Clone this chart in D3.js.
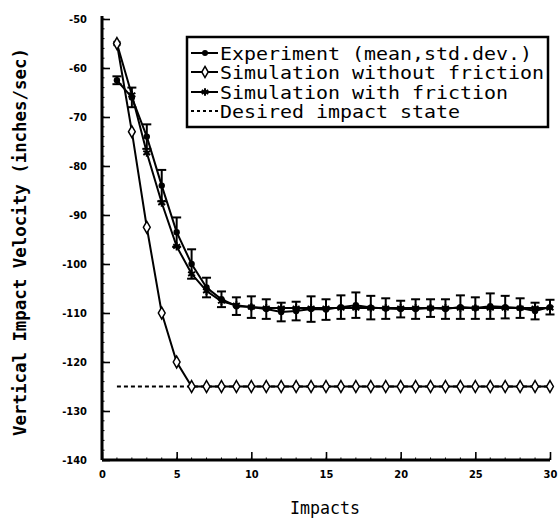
<!DOCTYPE html>
<html><head><meta charset="utf-8">
<script src="https://cdn.jsdelivr.net/npm/d3@7"></script>
<style>body{margin:0;background:#fff}svg{display:block}</style>
</head><body>
<script>
const impacts = [1,2,3,4,5,6,7,8,9,10,11,12,13,14,15,16,17,18,19,20,21,22,23,24,25,26,27,28,29,30];
const expMean = [-62.5,-66,-74,-84,-93.5,-100,-104.8,-107.2,-108.6,-108.8,-109.2,-109.8,-109.6,-109.2,-109.3,-108.8,-108.4,-108.9,-109.1,-109.2,-109.2,-109,-109.2,-108.8,-109,-108.6,-108.8,-109,-109.6,-108.8];
const expStd = [0.8,2,2.5,3.2,3,3,2,1.6,1.8,2.2,2,1.9,1.9,2.6,2.1,2.4,2.6,2.4,2.1,1.7,2,1.8,2,2.4,2.2,2.6,2.3,2,1.7,1.5];
const simNoFric = [-55,-73,-92.5,-110,-120,-125,-125,-125,-125,-125,-125,-125,-125,-125,-125,-125,-125,-125,-125,-125,-125,-125,-125,-125,-125,-125,-125,-125,-125,-125];
const simFric = [-55,-65.5,-77.3,-87.5,-96.4,-102,-105.5,-107.6,-108.4,-108.8,-109,-109,-109,-109,-109,-109,-109,-109,-109,-109,-109,-109,-109,-109,-109,-109,-109,-109,-109,-109];
const desiredX = [1,30];
const desiredY = [-125,-125];
const xTicks = [0,5,10,15,20,25,30];
const yTicks = [-50,-60,-70,-80,-90,-100,-110,-120,-130,-140];
const legendLabels = ["Experiment (mean,std.dev.)","Simulation without friction","Simulation with friction","Desired impact state"];

const W=560,H=524;
const svg=d3.select("body").append("svg").attr("width",W).attr("height",H);
const x=d3.scaleLinear().domain([0,30]).range([102,550]);
const y=d3.scaleLinear().domain([-140,-50]).range([460,19]);

// minor ticks
const g=svg.append("g");
g.selectAll(".mx").data(d3.range(0,31,1)).join("line")
 .attr("x1",d=>x(d)).attr("x2",d=>x(d)).attr("y1",y(-140)).attr("y2",y(-140)-2.5)
 .attr("stroke","#000").attr("stroke-width",1);
g.selectAll(".my").data(d3.range(-140,-49,2)).join("line")
 .attr("x1",x(0)).attr("x2",x(0)+2.5).attr("y1",d=>y(d)).attr("y2",d=>y(d))
 .attr("stroke","#000").attr("stroke-width",1);

// axes
const xAxis=d3.axisBottom(x).tickValues(xTicks).tickSize(-8).tickFormat(d3.format("d")).tickPadding(10);
const yAxis=d3.axisLeft(y).tickValues(yTicks).tickSize(-8).tickFormat(d=>"-"+Math.abs(d)).tickPadding(15);
const gx=svg.append("g").attr("transform",`translate(0,${y(-140)})`).call(xAxis);
const gy=svg.append("g").attr("transform",`translate(${x(0)},0)`).call(yAxis);
[gx,gy].forEach(a=>{
  a.select(".domain").attr("stroke","#000").attr("stroke-width",3);
  a.selectAll(".tick line").attr("stroke","#000").attr("stroke-width",1.6);
  a.selectAll(".tick text").attr("fill","#000").attr("font-family","DejaVu Sans Condensed, DejaVu Sans").attr("font-weight","bold").attr("font-size",11);
});
gx.select(".domain").attr("d",`M${x(0)},0H${x(30)}`);
gy.select(".domain").attr("d",`M0,${y(-140)}V${y(-50)-3}`);

// titles
svg.append("text").attr("transform",`translate(19,242) rotate(-90)`).attr("text-anchor","middle").attr("dominant-baseline","central")
 .attr("font-family","DejaVu Sans Mono").attr("font-weight","bold").attr("font-size",18)
 .attr("textLength",388).attr("lengthAdjust","spacingAndGlyphs").text("Vertical Impact Velocity (inches/sec)");
svg.append("text").attr("x",325).attr("y",514).attr("text-anchor","middle")
 .attr("font-family","DejaVu Sans Mono").attr("font-size",18)
 .attr("textLength",70).attr("lengthAdjust","spacingAndGlyphs").text("Impacts");

const line=d3.line().x(d=>x(d[0])).y(d=>y(d[1]));

// desired
svg.append("path").datum(desiredX.map((v,i)=>[v,desiredY[i]])).attr("d",line)
 .attr("fill","none").attr("stroke","#000").attr("stroke-width",2).attr("stroke-dasharray","4,3");

const nf=impacts.map((v,i)=>[v,simNoFric[i]]);
const fr=impacts.map((v,i)=>[v,simFric[i]]);
const ex=impacts.map((v,i)=>[v,expMean[i],expStd[i]]);

// lines
svg.append("path").datum(nf).attr("d",line).attr("fill","none").attr("stroke","#000").attr("stroke-width",2);
svg.append("path").datum(fr).attr("d",line).attr("fill","none").attr("stroke","#000").attr("stroke-width",2);
svg.append("path").datum(ex).attr("d",line).attr("fill","none").attr("stroke","#000").attr("stroke-width",2);

// error bars
const eb=svg.append("g").attr("stroke","#000").attr("stroke-width",2);
ex.forEach(d=>{
  const cx=x(d[0]),t=y(d[1]+d[2]),b=y(d[1]-d[2]);
  eb.append("line").attr("x1",cx).attr("x2",cx).attr("y1",t).attr("y2",b);
  eb.append("line").attr("x1",cx-4.5).attr("x2",cx+4.5).attr("y1",t).attr("y2",t);
  eb.append("line").attr("x1",cx-4.5).attr("x2",cx+4.5).attr("y1",b).attr("y2",b);
});
// markers
svg.selectAll(".star").data(fr).join("path").attr("transform",d=>`translate(${x(d[0])},${y(d[1])})`)
 .attr("d",d3.symbol(d3.symbolAsterisk,45)).attr("fill","none").attr("stroke","#000").attr("stroke-width",2);
svg.selectAll(".dot").data(ex).join("circle").attr("cx",d=>x(d[0])).attr("cy",d=>y(d[1])).attr("r",3.2).attr("fill","#000");
svg.selectAll(".dia").data(nf).join("path").attr("transform",d=>`translate(${x(d[0])},${y(d[1])})`)
 .attr("d",d3.symbol(d3.symbolDiamond,40)).attr("fill","#fff").attr("stroke","#000").attr("stroke-width",1.5);

// legend
const lg=svg.append("g");
lg.append("rect").attr("x",187).attr("y",37).attr("width",361).attr("height",90).attr("fill","#fff").attr("stroke","#000").attr("stroke-width",2.5);
const rowsY=[53,72,92,111];
legendLabels.forEach((lab,i)=>{
  const yy=rowsY[i];
  lg.append("line").attr("x1",191).attr("x2",218).attr("y1",yy).attr("y2",yy).attr("stroke","#000").attr("stroke-width",2)
    .attr("stroke-dasharray",i===3?"3,3":null);
  if(i===0) lg.append("circle").attr("cx",205).attr("cy",yy).attr("r",3).attr("fill","#000");
  if(i===1) lg.append("path").attr("transform",`translate(205,${yy})`).attr("d",d3.symbol(d3.symbolDiamond,36)).attr("fill","#fff").attr("stroke","#000").attr("stroke-width",1.5);
  if(i===2) lg.append("path").attr("transform",`translate(205,${yy})`).attr("d",d3.symbol(d3.symbolAsterisk,40)).attr("fill","none").attr("stroke","#000").attr("stroke-width",2);
  lg.append("text").attr("x",220).attr("y",yy).attr("dominant-baseline","central")
    .attr("font-family","DejaVu Sans Mono").attr("font-size",18)
    .attr("textLength",lab.length*12).attr("lengthAdjust","spacingAndGlyphs").text(lab);
});
</script>
</body></html>
